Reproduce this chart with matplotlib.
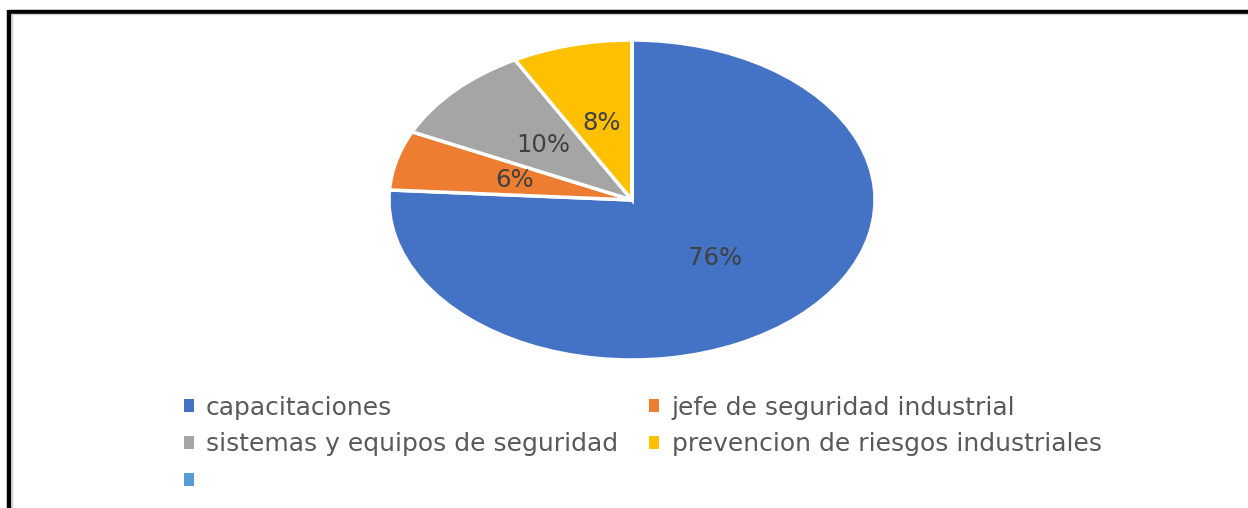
import matplotlib
matplotlib.use("Agg")
import matplotlib.pyplot as plt
from matplotlib.lines import Line2D
from matplotlib.patches import Patch

categories = ["capacitaciones", "jefe de seguridad industrial",
              "sistemas y equipos de seguridad", "prevencion de riesgos industriales", ""]
values = [76, 6, 10, 8, 0]
colors = ["#4472C4", "#ED7D31", "#A5A5A5", "#FFC000", "#5B9BD5"]

W, H = 1248, 508
fig = plt.figure(figsize=(W / 100, H / 100), dpi=100)
fig.patch.set_facecolor("white")

# pie axes (elliptical, as in the reference)
cx, cy, rx, ry = 632, 200, 243, 160
ax = fig.add_axes([(cx - rx) / W, (H - cy - ry) / H, 2 * rx / W, 2 * ry / H])

def fmt(p):
    return "" if p < 0.5 else f"{p:.0f}%"

wedges, texts, autotexts = ax.pie(
    values, colors=colors, startangle=90, counterclock=False,
    autopct=fmt, pctdistance=0.5,
    wedgeprops=dict(edgecolor="white", linewidth=2.5),
    textprops=dict(color="#404040", fontsize=17.5, family="DejaVu Sans"),
)
ax.set_aspect("auto")
ax.set_xlim(-1, 1)
ax.set_ylim(-1, 1)
ax.axis("off")

# legend
order = [0, 2, 4, 1, 3]
handles = [Patch(facecolor=colors[i], edgecolor="none") for i in order]
labels = [categories[i] for i in order]
leg = fig.legend(handles, labels, ncol=2, loc="upper left",
                 bbox_to_anchor=(161 / W, 1 - 373 / H), frameon=False,
                 handlelength=0.4, handleheight=0.4, handletextpad=0.5,
                 columnspacing=1.25, labelspacing=0.52,
                 prop=dict(family="DejaVu Sans", size=18))
for t in leg.get_texts():
    t.set_color("#595959")

# frame lines (top and left only, as cropped in the reference)
fig.add_artist(Line2D([8.5 / W, 1], [1 - 11.5 / H] * 2, color="black", lw=3.2,
                      transform=fig.transFigure, solid_capstyle="butt"))
fig.add_artist(Line2D([8.5 / W] * 2, [0, 1 - 10 / H], color="black", lw=3.2,
                      transform=fig.transFigure, solid_capstyle="butt"))
fig.add_artist(Line2D([11.5 / W, 1], [1 - 14 / H] * 2, color="#d0d0d0", lw=1,
                      transform=fig.transFigure))
fig.add_artist(Line2D([11.5 / W] * 2, [0, 1 - 14 / H], color="#d0d0d0", lw=1,
                      transform=fig.transFigure))

fig.savefig("out.png", dpi=100)
